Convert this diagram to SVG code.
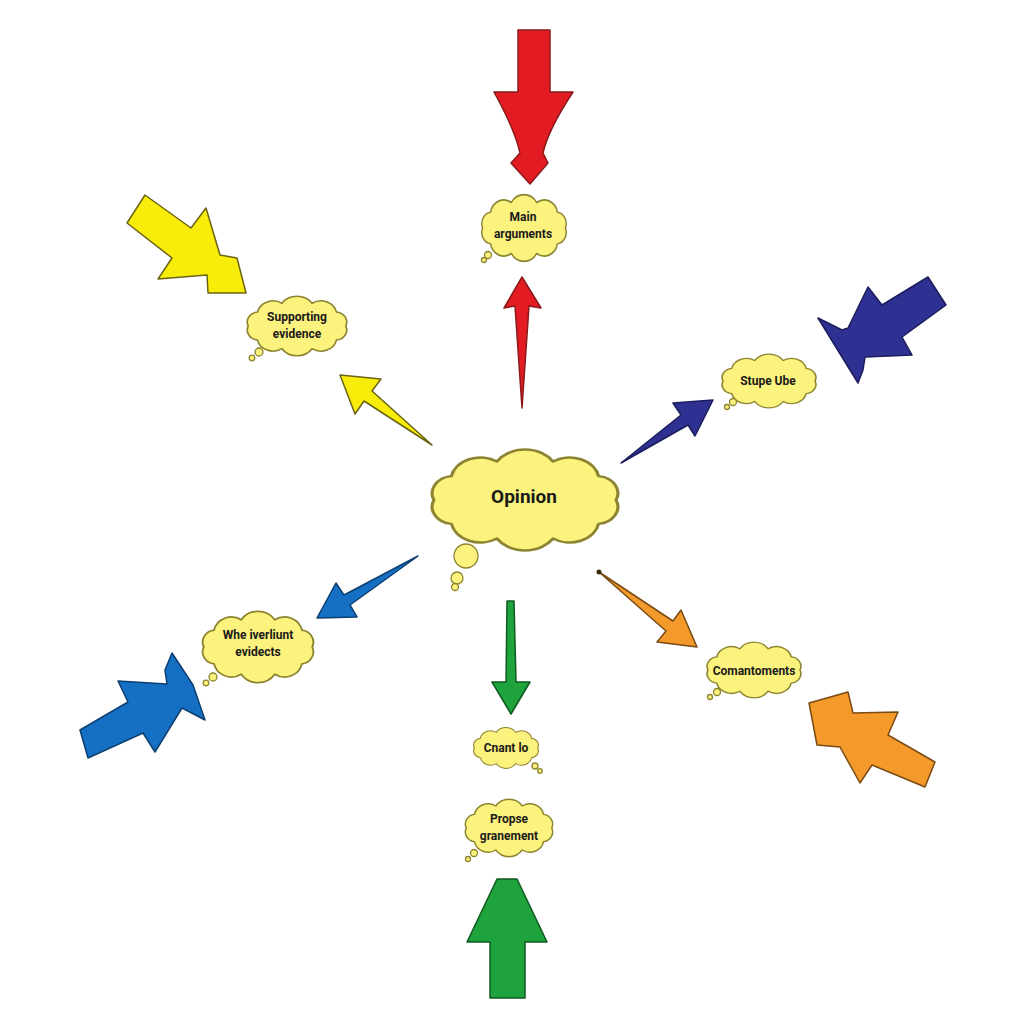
<svg xmlns="http://www.w3.org/2000/svg" width="1024" height="1024" viewBox="0 0 1024 1024">
<style>
.cloud{fill:#fcf27e;stroke:#8c8430;stroke-width:1.6;vector-effect:non-scaling-stroke;stroke-linejoin:round}
.bub{fill:#fcf27e;stroke:#8c8430;stroke-width:1.3}
.lbl{font-family:Roboto,"Liberation Sans",sans-serif;font-weight:bold;font-size:12px;fill:#1a1a1a;text-anchor:middle}
.big{font-size:19px}
.red{fill:#e31b23;stroke:#8b1a1a;stroke-width:1.5;stroke-linejoin:round}
.yel{fill:#f7ec0a;stroke:#6b6414;stroke-width:1.5;stroke-linejoin:round}
.navy{fill:#2e3192;stroke:#1b1d5c;stroke-width:1.5;stroke-linejoin:round}
.blue{fill:#1570c4;stroke:#0d3f70;stroke-width:1.5;stroke-linejoin:round}
.grn{fill:#1fa33c;stroke:#0f5a20;stroke-width:1.5;stroke-linejoin:round}
.org{fill:#f39a2b;stroke:#7a4a14;stroke-width:1.5;stroke-linejoin:round}
</style>
<defs>
<path id="cl" d="M-46,0 A11,11 0 0 1 -37.2,-15.3 A15,15 0 0 1 -14.2,-24.7 A17,17 0 0 1 14.2,-24.7 A15,15 0 0 1 37.2,-15.3 A11,11 0 0 1 46,0 A11,11 0 0 1 37.2,15.3 A15,15 0 0 1 14.2,24.7 A17,17 0 0 1 -14.2,24.7 A15,15 0 0 1 -37.2,15.3 A11,11 0 0 1 -46,0 Z"/>
</defs>
<rect width="1024" height="1024" fill="#ffffff"/>

<g id="big-arrows">
<path id="arrow-red" class="red" d="M518,30 L550,30 L550,92 L573,92 Q548,130 543,153 L548,163 L530,184 L511,163 L520,153 Q515,130 494,92 L518,92 Z"/>
<polygon id="arrow-yellow" class="yel" points="145,195 191,228 206,208 220,255 237,258 246,293 208,293 207,275 158,279 172,258 127,223"/>
<polygon id="arrow-navy" class="navy" points="928,277 946,305 902,337 912,355 865,357 863,370 858,383 818,318 842,330 848,328 868,287 882,305"/>
<polygon id="arrow-blue" class="blue" points="80,730 128,702 118,681 167,684 165,670 172,653 193,685 205,720 182,708 155,752 143,733 88,758"/>
<polygon id="arrow-green" class="grn" points="497,879 517,879 547,942 525,942 525,998 490,998 490,942 467,942"/>
<polygon id="arrow-orange" class="org" points="809,703 848,692 853,713 898,712 888,735 935,762 925,787 872,765 860,783 840,747 817,745"/>
</g>

<g id="connectors">
<polygon class="red" points="522,277 541,308 529,306 522,408 515,306 504,308"/>
<polygon class="yel" points="340,375 381,379 372,391 432,445 364,401 355,414"/>
<polygon class="navy" points="713,400 695,436 688,425 621,463 681,415 673,403"/>
<polygon class="blue" points="317,618 336,583 344,595 418,556 350,605 357,617"/>
<polygon class="grn" points="507,601 514,601 516,682 530,682 511,714 492,682 506,682"/>
<polygon class="org" points="697,647 657,642 666,631 599,572 673,621 681,610"/>
<circle cx="599" cy="572" r="2.5" fill="#3a2a10"/>
</g>

<g id="node-opinion">
<use href="#cl" class="cloud" transform="translate(525,500) scale(1.98,1.56)"/>
<circle class="bub" cx="466" cy="556" r="12"/>
<circle class="bub" cx="457" cy="578" r="6"/>
<circle class="bub" cx="455" cy="587" r="3.5"/>
<text class="lbl big" x="524" y="503">Opinion</text>
</g>

<g id="node-main">
<use href="#cl" class="cloud" transform="translate(524,228) scale(0.9,1.03)"/>
<circle class="bub" cx="488" cy="255" r="3.5"/>
<circle class="bub" cx="484" cy="260" r="2.5"/>
<text class="lbl" x="523" y="221">Main</text>
<text class="lbl" x="523" y="238">arguments</text>
</g>

<g id="node-supporting">
<use href="#cl" class="cloud" transform="translate(297,326) scale(1.06,0.92)"/>
<circle class="bub" cx="259" cy="352" r="4"/>
<circle class="bub" cx="252" cy="358" r="2.8"/>
<text class="lbl" x="297" y="321">Supporting</text>
<text class="lbl" x="297" y="338">evidence</text>
</g>

<g id="node-stupe">
<use href="#cl" class="cloud" transform="translate(769,381) scale(1.0,0.83)"/>
<circle class="bub" cx="733" cy="402" r="3.5"/>
<circle class="bub" cx="727" cy="407" r="2.5"/>
<text class="lbl" x="768" y="385">Stupe Ube</text>
</g>

<g id="node-whe">
<use href="#cl" class="cloud" transform="translate(258,647) scale(1.18,1.1)"/>
<circle class="bub" cx="213" cy="677" r="4"/>
<circle class="bub" cx="206" cy="683" r="2.8"/>
<text class="lbl" x="258" y="639">Whe iverliunt</text>
<text class="lbl" x="258" y="656">evidects</text>
</g>

<g id="node-comantoments">
<use href="#cl" class="cloud" transform="translate(754,670) scale(1.0,0.86)"/>
<circle class="bub" cx="717" cy="692" r="3.5"/>
<circle class="bub" cx="710" cy="697" r="2.5"/>
<text class="lbl" x="754" y="675">Comantoments</text>
</g>

<g id="node-cnant">
<use href="#cl" class="cloud" transform="translate(506,748) scale(0.69,0.63)"/>
<circle class="bub" cx="535" cy="766" r="3"/>
<circle class="bub" cx="540" cy="771" r="2.3"/>
<text class="lbl" x="506" y="752">Cnant lo</text>
</g>

<g id="node-propse">
<use href="#cl" class="cloud" transform="translate(509,828) scale(0.93,0.89)"/>
<circle class="bub" cx="474" cy="853" r="3.5"/>
<circle class="bub" cx="468" cy="859" r="2.5"/>
<text class="lbl" x="509" y="823">Propse</text>
<text class="lbl" x="509" y="840">granement</text>
</g>
</svg>
